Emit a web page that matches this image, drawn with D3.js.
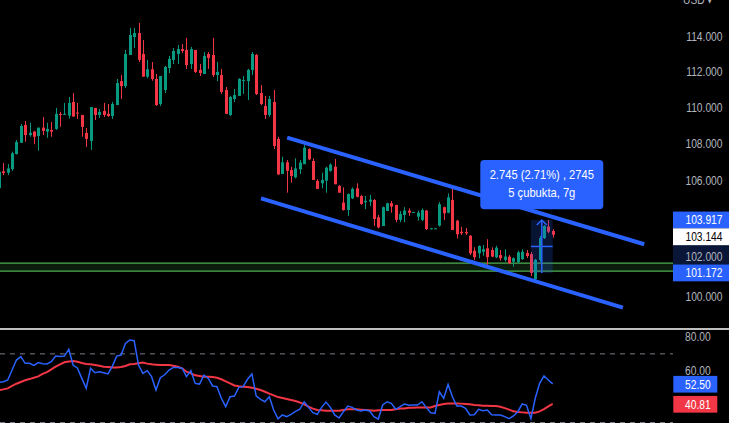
<!DOCTYPE html>
<html>
<head>
<meta charset="utf-8">
<script src="https://cdn.jsdelivr.net/npm/d3@7/dist/d3.min.js"></script>
<style>
  body { margin: 0; background: #000; }
  svg { display: block; }
</style>
</head>
<body>
<div id="chart"></div>
<script>
// candle data (log price scale)
const opens = [105.60,106.50,106.43,106.62,107.44,108.05,109.03,108.47,108.66,108.42,
  108.88,108.66,108.75,108.81,109.64,109.62,109.54,110.30,109.71,109.58,
  108.59,108.15,109.97,109.58,109.80,109.64,109.52,110.13,111.47,111.19,
  112.95,113.98,114.21,113.01,111.72,112.14,111.59,110.19,110.97,112.21,
  112.67,113.01,113.29,113.24,112.44,113.24,112.10,111.87,113.01,112.95,
  111.81,111.81,110.97,109.58,110.47,110.64,111.50,111.47,112.10,112.95,
  110.80,110.08,109.58,110.30,108.26,106.36,106.99,106.57,106.18,106.61,
  106.89,107.71,107.06,105.99,105.86,106.00,106.53,106.75,105.72,104.83,
  104.44,105.06,105.59,105.18,104.85,104.88,104.97,104.06,103.60,104.39,
  104.80,104.71,103.92,104.18,104.41,104.31,104.09,103.92,104.41,103.44,
  103.46,103.62,104.59,104.30,104.97,103.88,103.30,103.29,103.09,102.31,
  102.18,102.26,102.44,102.35,101.98,102.09,101.84,102.01,101.75,101.72,
  101.88,102.20,102.14,100.85,101.84,102.97,103.57,103.34];
const highs = [106.55,106.95,106.89,107.57,108.20,109.08,109.25,109.15,108.70,108.88,
  109.47,109.15,109.19,109.97,109.75,110.25,110.58,110.80,110.25,109.58,
  108.86,110.02,109.97,109.91,110.25,110.19,110.30,111.59,111.81,113.24,
  114.51,114.51,114.80,113.81,112.67,112.55,111.87,111.76,112.33,112.90,
  113.35,113.52,113.58,113.93,113.41,113.24,112.44,113.12,113.12,113.93,
  112.55,112.16,111.14,110.64,111.03,111.64,111.76,112.16,113.12,113.01,
  111.25,110.64,110.64,110.97,108.38,107.29,107.11,106.75,107.20,107.11,
  107.93,107.75,107.20,106.08,106.43,106.75,106.93,107.17,105.77,105.64,
  105.32,105.64,105.86,105.24,105.18,105.24,105.02,104.18,104.62,104.83,
  104.92,104.71,104.39,104.59,104.53,104.34,104.41,104.53,104.44,103.50,
  103.50,104.86,104.62,105.32,105.68,103.92,103.56,103.50,103.13,102.49,
  102.59,102.61,102.91,102.49,102.57,102.35,102.39,102.09,101.98,102.31,
  102.39,102.35,102.25,101.89,103.08,103.65,103.917,103.43];
const lows = [105.50,106.30,106.30,106.53,107.41,108.05,108.11,108.38,107.98,107.62,
  108.47,108.32,108.38,108.75,108.93,109.60,109.37,109.49,109.36,108.38,
  107.82,107.66,109.30,109.41,109.47,109.47,109.36,110.13,110.47,111.08,
  112.95,113.35,112.55,111.72,111.63,111.49,110.08,110.08,110.80,111.93,
  112.44,112.44,113.07,112.16,112.16,111.93,111.76,111.87,112.16,111.70,
  111.47,110.75,109.64,109.52,110.30,110.64,110.75,110.41,111.81,110.69,
  110.13,109.36,109.47,107.71,106.30,106.36,105.36,105.90,106.13,106.36,
  106.89,107.11,106.04,105.56,105.59,105.36,106.48,105.81,105.36,104.41,
  104.13,105.02,105.11,104.71,104.49,104.65,103.61,103.48,103.60,104.39,
  104.30,103.80,103.80,103.80,104.13,104.31,103.88,103.86,103.39,103.43,
  103.44,103.57,103.92,104.27,103.39,102.96,103.13,103.13,102.09,101.84,
  101.93,102.05,101.58,101.98,101.93,101.80,101.75,101.62,101.50,101.67,
  101.84,101.94,101.01,100.72,101.74,102.92,103.22,102.99];
const closes = [106.48,106.41,106.66,107.48,108.09,108.97,108.47,108.60,108.38,108.88,
  108.70,108.81,108.66,109.64,109.58,109.64,110.25,109.49,109.68,108.92,
  108.26,110.02,109.58,109.75,109.58,109.52,110.19,111.36,111.19,113.01,
  114.10,114.21,112.67,111.72,112.14,111.59,110.13,111.76,112.27,112.73,
  113.18,113.29,113.18,112.38,113.29,111.99,111.93,112.90,112.78,111.81,
  111.99,110.86,109.64,110.58,110.69,111.59,111.53,112.10,113.01,110.75,
  110.19,109.58,110.47,107.87,106.34,106.99,106.53,106.25,106.66,106.97,
  107.78,107.15,106.04,105.56,106.04,106.70,106.87,105.81,105.36,104.44,
  105.29,105.56,105.14,104.76,104.93,104.99,103.97,103.53,104.59,104.80,
  104.62,103.92,104.23,104.41,104.30,104.34,104.30,104.44,103.44,103.48,
  103.48,104.75,104.27,105.11,103.39,103.17,103.22,103.22,102.18,101.98,
  102.56,102.39,101.98,102.01,102.47,101.93,102.01,101.67,101.93,102.23,
  102.26,102.04,101.172,101.85,102.97,103.60,103.30,103.144];

// RSI(14) and its moving average
const rsi = [53.4,53.8,54.8,60.6,66.4,68.4,64.5,64.5,63.3,64.9,
  64.3,64.1,65.4,68.7,68.4,68.7,72.6,63.5,61.6,55.7,
  49.9,61.6,59.0,59.6,59.0,58.3,62.9,68.7,69.3,76.1,
  78.1,77.7,63.5,58.6,60.2,56.7,48.9,56.1,57.8,60.6,
  62.1,62.1,61.6,56.7,60.2,52.8,52.4,57.6,55.7,51.3,
  50.9,44.1,39.2,45.0,45.4,50.5,50.9,55.2,58.3,45.4,
  43.5,42.1,45.0,37.3,32.2,34.4,33.4,34.7,36.5,37.7,
  42.1,38.8,35.7,34.7,38.8,41.9,38.8,34.4,32.6,36.3,
  39.6,38.8,37.3,36.7,37.3,36.7,33.4,32.0,40.2,42.1,
  41.2,37.7,39.2,40.8,40.0,40.2,40.2,42.1,38.8,35.7,
  35.3,47.9,44.1,52.2,45.0,39.6,39.6,38.2,34.4,34.5,
  37.7,36.9,37.3,34.5,34.4,34.4,33.4,32.2,33.8,36.3,
  40.8,40.0,32.2,44.1,52.8,57.1,54.8,52.5];
const rsiMa = [48.9,49.3,49.9,51.3,52.6,53.6,54.6,55.3,56.1,56.9,
  58.3,59.4,61.0,62.5,63.9,65.1,65.6,65.8,65.4,64.7,
  64.1,63.9,63.5,63.1,62.5,62.3,62.1,62.1,62.3,62.9,
  63.9,64.1,64.5,64.9,64.3,63.9,63.7,63.5,63.5,63.5,
  63.1,62.5,61.6,59.6,58.6,57.5,57.1,56.7,56.7,56.5,
  56.1,55.2,54.0,52.8,51.6,51.1,50.9,50.7,50.3,49.7,
  48.9,47.9,46.8,45.8,44.8,44.3,43.7,43.1,42.5,41.7,
  40.6,39.2,38.1,37.3,37.1,36.9,36.9,36.9,36.9,37.3,
  37.7,37.7,37.7,37.5,37.3,37.1,36.9,37.1,37.3,37.3,
  37.3,37.7,38.1,38.2,38.6,38.6,38.8,38.8,38.8,38.8,
  39.6,40.2,40.8,41.1,41.1,41.1,41.0,40.8,40.6,40.2,
  40.0,39.8,39.8,39.6,39.6,39.2,38.4,37.5,36.5,36.1,
  35.9,35.7,35.7,35.7,36.5,37.8,39.4,40.81];

const priceTicks = [100, 102, 106, 108, 110, 112, 114];
const rsiTicks = [80, 60];
const rsiLevels = [70, 30];

// drawings: bar index / price pairs
const channelUpper = [[66.1, 108.33], [148.0, 102.65]];
const channelLower = [[60.1, 105.06], [143.1, 99.41]];
const zoneLevels = [101.27, 101.67];
const measureBars = [122, 127];
const measurePrices = [101.172, 103.917];
const measureText = ["2.745 (2.71%) , 2745", "5 çubukta, 7g"];
const lastPrice = 103.144;

const W = 729, H = 423;
const axisX = 673;
const font = "'Liberation Sans', Arial, sans-serif";
const blue = "#2962ff", up = "#089981", down = "#f23645", tickColor = "#b2b5be";
const squeeze = 0.82;   // narrow look of the axis digits

const svg = d3.select("#chart").append("svg")
  .attr("width", W).attr("height", H)
  .style("background", "#000");

const x = d3.scaleLinear().domain([0, 127]).range([-1, 552.7]);
const y = d3.scaleLog().domain([100, 114]).range([296, 36.7]);
const yR = d3.scaleLinear().domain([30, 80]).range([422.5, 336.7]);

// text placed at (tx, ty) and squeezed horizontally
function narrowText(sel, tx, ty, k) {
  return sel.attr("x", 0).attr("y", 0)
    .attr("transform", (d, i) => `translate(${tx(d, i)},${ty(d, i)}) scale(${k || squeeze},1)`)
    .style("font", `12.5px ${font}`);
}

svg.append("clipPath").attr("id", "pane")
  .append("rect").attr("x", 0).attr("y", 0).attr("width", axisX).attr("height", 328);

const main = svg.append("g").attr("clip-path", "url(#pane)");

// green zone between two horizontal levels
main.append("rect")
  .attr("x", 0).attr("width", axisX)
  .attr("y", y(zoneLevels[1]))
  .attr("height", y(zoneLevels[0]) - y(zoneLevels[1]))
  .attr("fill", "#4caf50").attr("fill-opacity", 0.16);
main.selectAll(".zone").data(zoneLevels).join("line")
  .attr("x1", 0).attr("x2", axisX)
  .attr("y1", d => y(d)).attr("y2", d => y(d))
  .attr("stroke", "#4caf50").attr("stroke-width", 1.2);

// candles
const bars = closes.map((c, i) => ({ i, o: opens[i], h: highs[i], l: lows[i], c }));
const cx = d => Math.round(x(d.i));
const col = d => d.c >= d.o ? up : down;

main.selectAll(".wick").data(bars).join("line")
  .attr("x1", d => cx(d) + 0.5).attr("x2", d => cx(d) + 0.5)
  .attr("y1", d => y(d.h)).attr("y2", d => y(d.l))
  .attr("stroke", col).attr("stroke-width", 1);

main.selectAll(".body").data(bars).join("rect")
  .attr("x", d => cx(d) - 1)
  .attr("width", 3)
  .attr("y", d => y(Math.max(d.o, d.c)))
  .attr("height", d => Math.max(1, Math.abs(y(d.o) - y(d.c))))
  .attr("fill", col);

// channel
main.selectAll(".channel").data([channelUpper, channelLower]).join("line")
  .attr("x1", d => x(d[0][0])).attr("y1", d => y(d[0][1]))
  .attr("x2", d => x(d[1][0])).attr("y2", d => y(d[1][1]))
  .attr("stroke", blue).attr("stroke-width", 4);

// price range measurement
const mx0 = x(measureBars[0]), mx1 = x(measureBars[1]);
const myTop = y(measurePrices[1]), myBot = y(measurePrices[0]);
const mxMid = (mx0 + mx1) / 2, myMid = (myTop + myBot) / 2;
main.append("rect")
  .attr("x", mx0).attr("y", myTop)
  .attr("width", mx1 - mx0).attr("height", myBot - myTop)
  .attr("fill", blue).attr("fill-opacity", 0.2);
main.append("line")
  .attr("x1", mx0).attr("x2", mx1).attr("y1", myMid).attr("y2", myMid)
  .attr("stroke", blue).attr("stroke-width", 1.5);
main.append("line")
  .attr("x1", mxMid).attr("x2", mxMid).attr("y1", myBot).attr("y2", myTop)
  .attr("stroke", blue).attr("stroke-width", 1.5);
main.append("path")
  .attr("d", `M${mxMid - 5},${myTop + 5}L${mxMid},${myTop}L${mxMid + 5},${myTop + 5}`)
  .attr("fill", "none").attr("stroke", blue).attr("stroke-width", 1.5);

const info = main.append("g").attr("transform", `translate(${mxMid},${myTop - 10.7})`);
info.append("rect")
  .attr("x", -61.5).attr("y", -49.3).attr("width", 123).attr("height", 49.3)
  .attr("rx", 4).attr("fill", blue);
narrowText(info.selectAll("text").data(measureText).join("text"),
    () => 0, (d, i) => -30.5 + i * 18.5, 0.86)
  .attr("text-anchor", "middle")
  .attr("fill", "#fff")
  .style("font-size", "13px")
  .text(d => d);

// price axis
svg.append("rect")
  .attr("x", axisX).attr("width", W - axisX)
  .attr("y", myTop).attr("height", myBot - myTop)
  .attr("fill", blue).attr("fill-opacity", 0.22);

narrowText(svg.selectAll(".ptick").data(priceTicks).join("text"),
    () => 722.5, d => y(d) + 4.5)
  .attr("text-anchor", "end").attr("fill", tickColor)
  .text(d => d.toFixed(3));

narrowText(svg.append("text").datum("USD ▾"), () => 683, () => 4)
  .attr("fill", tickColor)
  .text(d => d);

// axis labels, pushed down when they overlap
const labels = [
  { v: measurePrices[1], fill: blue, color: "#fff" },
  { v: lastPrice, fill: "#fff", color: "#000" },
  { v: measurePrices[0], fill: blue, color: "#fff" }
];
const lh = 16.8;
let prevBottom = -Infinity;
labels.forEach(d => {
  d.top = Math.max(y(d.v) - lh / 2, prevBottom);
  prevBottom = d.top + lh;
});
const lab = svg.selectAll(".plabel").data(labels).join("g");
lab.append("rect")
  .attr("x", axisX).attr("y", d => d.top)
  .attr("width", W - axisX).attr("height", lh)
  .attr("fill", d => d.fill);
narrowText(lab.append("text"), () => 722.5, d => d.top + lh / 2 + 4.5)
  .attr("text-anchor", "end").attr("fill", d => d.color)
  .text(d => d.v.toFixed(3));

// pane separator
svg.append("line")
  .attr("x1", 0).attr("x2", W).attr("y1", 329).attr("y2", 329)
  .attr("stroke", "#fff").attr("stroke-width", 1.3);

// RSI pane
svg.selectAll(".rlevel").data(rsiLevels).join("line")
  .attr("x1", 0).attr("x2", axisX)
  .attr("y1", d => yR(d)).attr("y2", d => yR(d))
  .attr("stroke", "#787b86").attr("stroke-dasharray", "5,5");

const rline = d3.line().x((d, i) => x(i)).y(d => yR(d));
svg.append("path").datum(rsiMa)
  .attr("d", rline).attr("fill", "none")
  .attr("stroke", down).attr("stroke-width", 2);
svg.append("path").datum(rsi)
  .attr("d", rline).attr("fill", "none")
  .attr("stroke", blue).attr("stroke-width", 1.5);

narrowText(svg.selectAll(".rtick").data(rsiTicks).join("text"),
    () => 710.7, d => yR(d) + 4.3)
  .attr("text-anchor", "end").attr("fill", tickColor)
  .text(d => d.toFixed(2));

const rLabels = [
  { v: rsi[rsi.length - 1], fill: blue },
  { v: rsiMa[rsiMa.length - 1], fill: down }
];
const rl = svg.selectAll(".rlabel").data(rLabels).join("g");
rl.append("rect")
  .attr("x", axisX + 0.3).attr("y", d => yR(d.v) - 8)
  .attr("width", 44).attr("height", 16.7)
  .attr("fill", d => d.fill);
narrowText(rl.append("text"), () => 710.7, d => yR(d.v) + 4.8)
  .attr("text-anchor", "end").attr("fill", "#fff")
  .text(d => d.v.toFixed(2));
</script>
</body>
</html>
